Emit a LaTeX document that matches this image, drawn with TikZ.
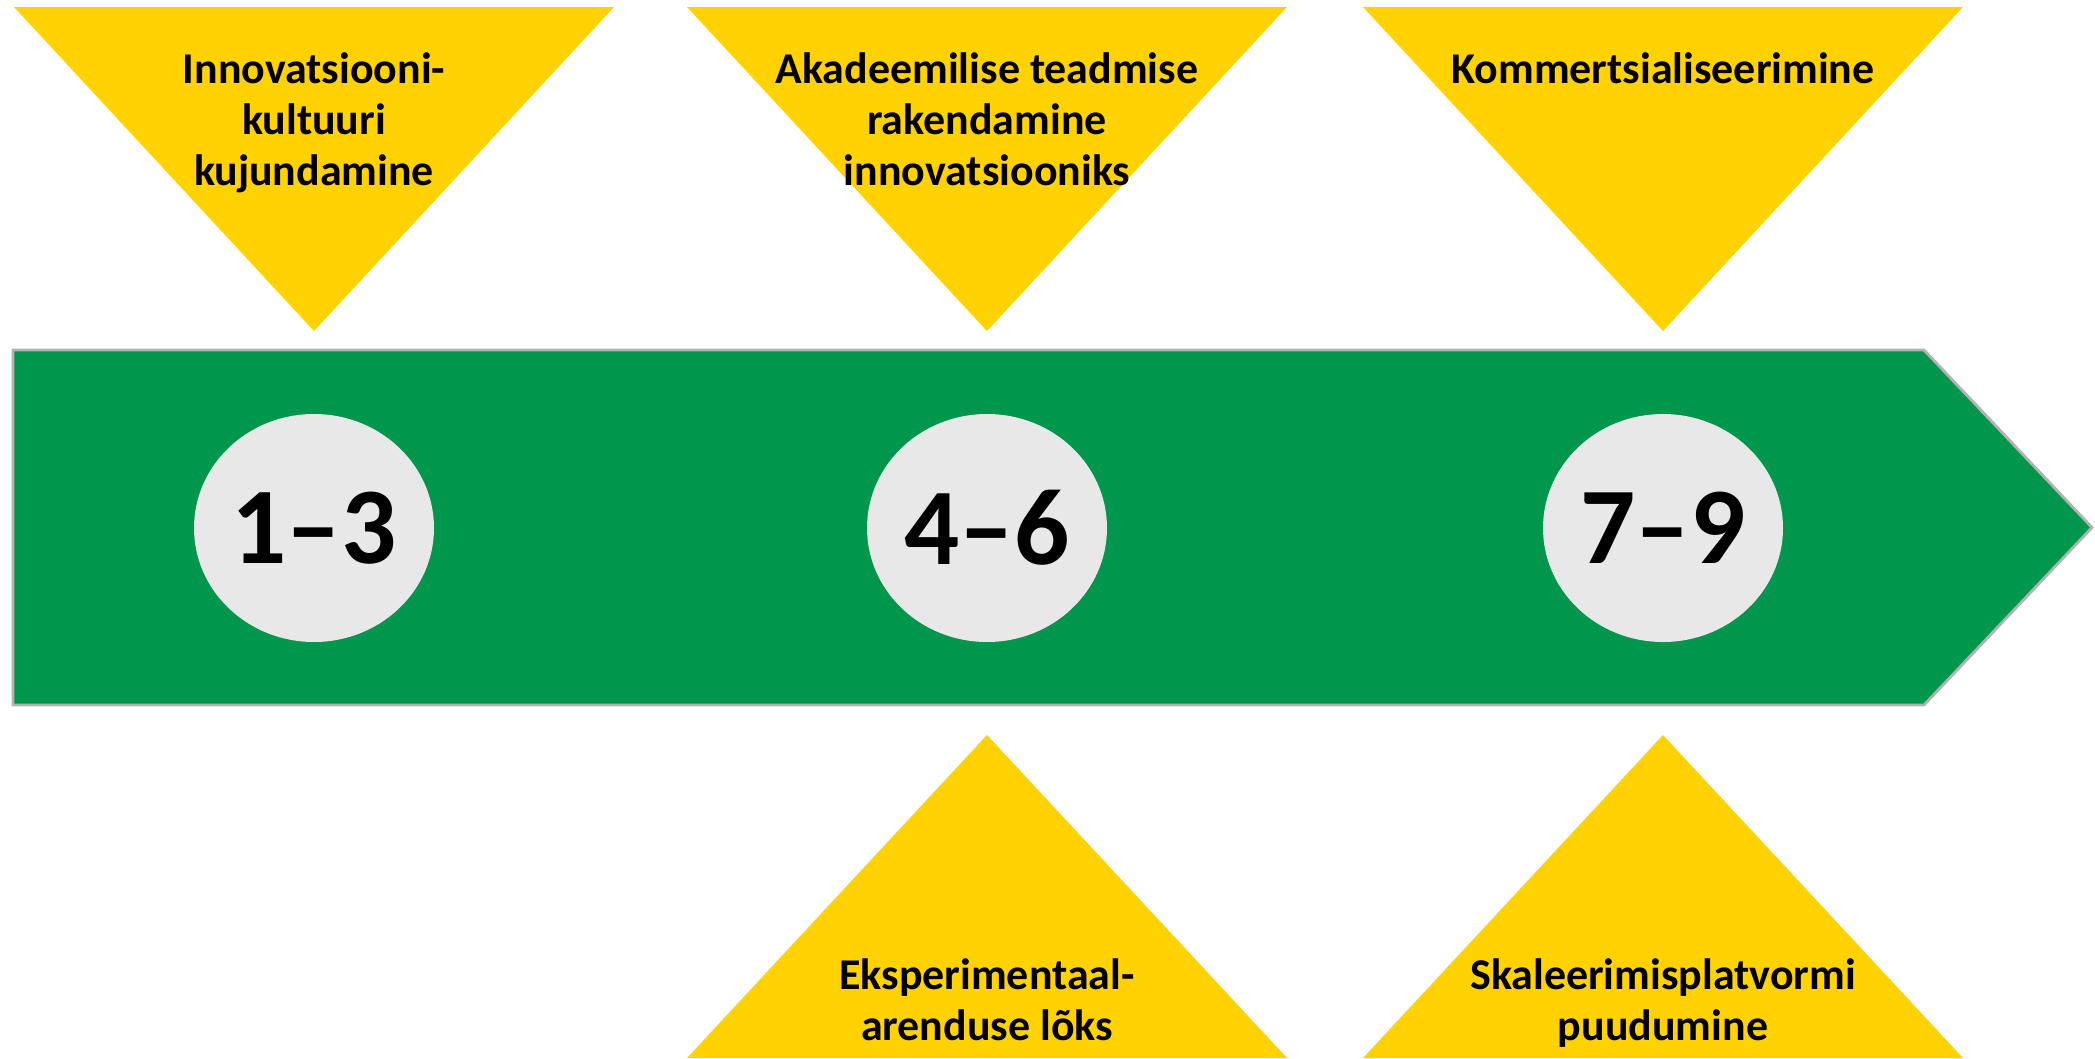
\documentclass[tikz,border=0pt]{standalone}
\usepackage{fontspec}
\setmainfont{Carlito}
\usetikzlibrary{positioning,shapes.geometric}

\definecolor{stageyellow}{RGB}{255,210,0}
\definecolor{stagegreen}{RGB}{0,150,75}
\definecolor{stagegrey}{RGB}{232,232,232}

\begin{document}
\begin{tikzpicture}[
    stagetext/.style={font=\fontsize{12.5}{14.5}\selectfont\bfseries, align=center, inner sep=0pt},
    stagecirc/.style={ellipse, fill=stagegrey, minimum width=2.4cm, minimum height=2.28cm,
                      inner sep=0pt, font=\fontsize{31}{31}\selectfont\bfseries}]
    \useasboundingbox (0,0) rectangle (20.95,10.58);

    % Timeline arrow
    \filldraw[fill=stagegreen, draw=gray!60, line width=0.8pt]
        (0.13,3.53) -- (19.24,3.53) -- (20.92,5.305) -- (19.24,7.08) -- (0.13,7.08) -- cycle;

    % Top triangles
    \foreach \x/\name/\txt in {3.14/top1/{Innovatsiooni-\\kultuuri\\kujundamine},
                               9.87/top2/{Akadeemilise teadmise\\rakendamine\\innovatsiooniks},
                               16.63/top3/{Kommertsialiseerimine}} {
        \fill[stageyellow] (\x-3.0,10.51) -- (\x+3.0,10.51) -- (\x,7.27) -- cycle;
        \node[stagetext, anchor=north] (\name) at (\x,10.06) {\txt};
    }

    % Bottom triangles
    \foreach \x/\name/\txt in {9.87/bot1/{Eksperimentaal-\\arenduse lõks},
                               16.63/bot2/{Skaleerimisplatvormi\\puudumine}} {
        \fill[stageyellow] (\x-3.0,0) -- (\x+3.0,0) -- (\x,3.23) -- cycle;
        \node[stagetext, anchor=north] (\name) at (\x,1.0) {\txt};
    }

    % Stage numbers
    \foreach \x/\name/\num in {3.14/s1/1--3, 9.87/s2/4--6, 16.63/s3/7--9}
        \node[stagecirc] (\name) at (\x,5.30) {\num};
\end{tikzpicture}
\end{document}
